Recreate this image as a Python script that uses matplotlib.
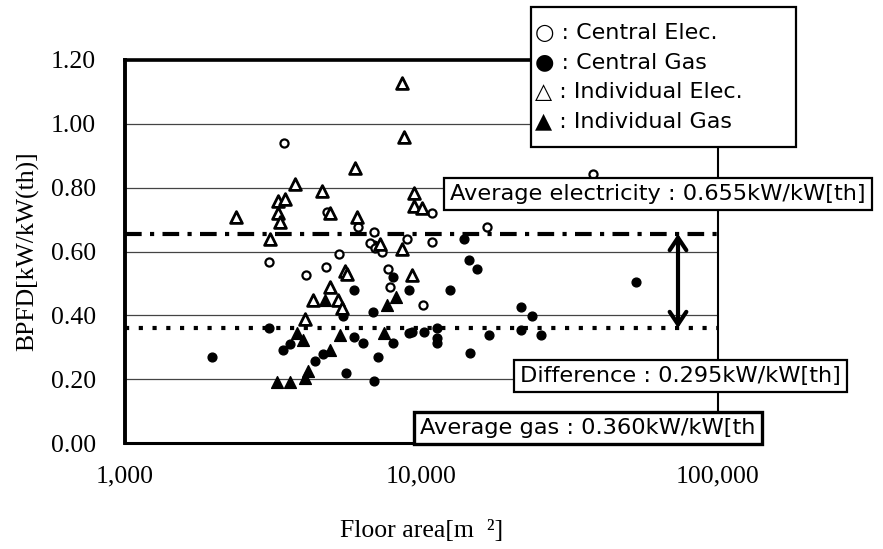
import matplotlib
matplotlib.use('Agg')
import matplotlib.pyplot as plt
from matplotlib.patches import Rectangle

# floor area [m2] and BPFD [kW/kW(th)]
central_elec_x = [3436, 10860, 4800, 6090, 6935, 8944, 10860, 6725, 6990, 7365,
                  5255, 3065, 4772, 4075, 7710, 7800, 10125, 16580, 37930]
central_elec_y = [0.939, 0.720, 0.725, 0.676, 0.662, 0.639, 0.630, 0.628, 0.610, 0.598,
                  0.592, 0.568, 0.550, 0.526, 0.545, 0.488, 0.432, 0.676, 0.842]

central_gas_x = [13900, 14450, 6900, 7995, 5905, 9080, 12460, 5430, 6865, 3065,
                 5905, 6333, 7995, 9050, 9295, 10170, 11290, 11290, 11290, 14600,
                 3424, 3608, 4650, 4385, 1963, 7115, 5580, 6935, 15420, 52840,
                 21600, 23530, 16870, 21600, 25240]
central_gas_y = [0.639, 0.574, 0.621, 0.521, 0.480, 0.480, 0.480, 0.399, 0.409, 0.361,
                 0.331, 0.314, 0.314, 0.344, 0.349, 0.349, 0.361, 0.328, 0.314, 0.281,
                 0.292, 0.310, 0.278, 0.257, 0.269, 0.269, 0.220, 0.195, 0.545, 0.503,
                 0.427, 0.398, 0.339, 0.354, 0.339]

indiv_elec_x = [8610, 8760, 5960, 3750, 4630, 9420, 3280, 3472, 9420, 10000,
                4927, 3280, 6060, 2372, 3338, 3090, 8580, 5505, 5610, 9295,
                4930, 4290, 5210, 5395, 4052, 7225]
indiv_elec_y = [1.129, 0.960, 0.861, 0.812, 0.788, 0.783, 0.759, 0.764, 0.741, 0.736,
                0.720, 0.720, 0.707, 0.707, 0.692, 0.639, 0.607, 0.540, 0.530, 0.527,
                0.490, 0.448, 0.448, 0.424, 0.388, 0.624]

indiv_gas_x = [4710, 7655, 8230, 3800, 3983, 5293, 7457, 4930, 4140, 4052, 3254, 3608]
indiv_gas_y = [0.448, 0.433, 0.457, 0.344, 0.323, 0.339, 0.344, 0.292, 0.227, 0.203,
               0.192, 0.192]

avg_elec = 0.655
avg_gas = 0.360
arrow_x = 73300

W, H = 883, 549


def fx(px):
    return px / W


def fy(py):
    return 1 - py / H


fig = plt.figure(figsize=(W / 100, H / 100), dpi=100)
ax = fig.add_axes([fx(125), fy(443), (718 - 125) / W, (443 - 60) / H])

ax.set_xscale('log')
ax.set_xlim(1000, 100000)
ax.set_ylim(0, 1.2)

ax.set_yticks([0, 0.2, 0.4, 0.6, 0.8, 1.0, 1.2])
ax.set_yticklabels(['0.00', '0.20', '0.40', '0.60', '0.80', '1.00', '1.20'])
ax.set_xticks([1000, 10000, 100000])
ax.set_xticklabels(['1,000', '10,000', '100,000'])
ax.minorticks_off()
ax.tick_params(length=0, labelsize=18.5)
ax.tick_params(axis='y', pad=21)
ax.tick_params(axis='x', pad=16)
for lab in ax.get_xticklabels() + ax.get_yticklabels():
    lab.set_fontfamily('Liberation Serif')

ax.grid(axis='y', color='#444444', lw=0.9)
ax.set_axisbelow(True)

ax.spines['left'].set_linewidth(2.8)
ax.spines['top'].set_linewidth(2.6)
ax.spines['bottom'].set_linewidth(2.2)
ax.spines['right'].set_linewidth(1.5)

ax.axhline(avg_elec, color='black', lw=3, dashes=(4, 2, 1, 2), zorder=3)
ax.axhline(avg_gas, color='black', lw=3, dashes=(1, 2.3), zorder=3)

ax.scatter(central_gas_x, central_gas_y, s=40, marker='o', color='black', zorder=4)
ax.scatter(indiv_gas_x, indiv_gas_y, s=72, marker='^', color='black', zorder=4)
ax.scatter(central_elec_x, central_elec_y, s=34, marker='o', facecolor='white',
           edgecolor='black', lw=1.6, zorder=5)
ax.scatter(indiv_elec_x, indiv_elec_y, s=72, marker='^', facecolor='white',
           edgecolor='black', lw=2, zorder=5)

ax.annotate('', xy=(arrow_x, avg_gas), xytext=(arrow_x, avg_elec),
            arrowprops=dict(arrowstyle='<->,head_length=0.45,head_width=0.3',
                            lw=3, color='black', shrinkA=0, shrinkB=0,
                            mutation_scale=20),
            zorder=6)

ax.set_xlabel('Floor area[m  ²]', fontsize=18.5, family='Liberation Serif')
ax.xaxis.set_label_coords(0.5, -0.2)
ax.set_ylabel('BPFD[kW/kW(th)]', fontsize=18.5, family='Liberation Serif')
ax.yaxis.set_label_coords(-0.145, 0.5)

# legend drawn as a framed box of glyph lines
fig.patches.append(Rectangle((fx(531), fy(147)), (796 - 531) / W, (147 - 7) / H,
                             transform=fig.transFigure, fc='white', ec='black',
                             lw=1.6, zorder=10))
legend_lines = ['○ : Central Elec.', '● : Central Gas',
                '△ : Individual Elec.', '▲ : Individual Gas']
for i, t in enumerate(legend_lines):
    fig.text(fx(535), fy(33 + i * 29.3), t, fontsize=16, family='DejaVu Sans',
             ha='left', va='center', zorder=11)

box = dict(boxstyle='square,pad=0.28', fc='white', ec='black', lw=1.6)
fig.text(fx(450), fy(194), 'Average electricity : 0.655kW/kW[th]', fontsize=16.2,
         family='DejaVu Sans', ha='left', va='center', bbox=box, zorder=11)
fig.text(fx(520), fy(376), 'Difference : 0.295kW/kW[th]', fontsize=16.2,
         family='DejaVu Sans', ha='left', va='center', bbox=box, zorder=11)
fig.text(fx(420), fy(428), 'Average gas : 0.360kW/kW[th', fontsize=16.2,
         family='DejaVu Sans', ha='left', va='center',
         bbox=dict(boxstyle='square,pad=0.28', fc='white', ec='black', lw=2.4), zorder=11)

fig.savefig('out.png', dpi=100)
